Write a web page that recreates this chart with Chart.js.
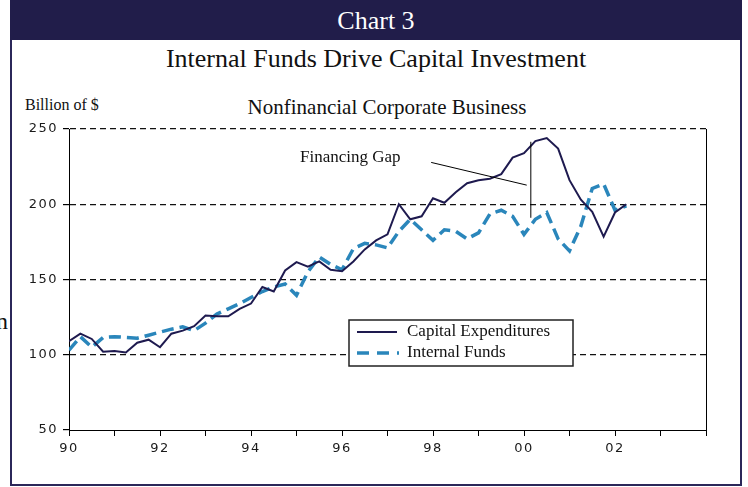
<!DOCTYPE html>
<html>
<head>
<meta charset="UTF-8">
<title>Chart 3</title>
<script src="https://cdn.jsdelivr.net/npm/chart.js@4.4.0/dist/chart.umd.min.js"></script>
<style>
*{margin:0;padding:0;}
body{width:748px;height:487px;position:relative;background:#fff;overflow:hidden;font-family:"Liberation Serif","Times New Roman",serif;color:#111;}
#frame{position:absolute;left:10px;top:0;width:728px;height:482px;border:2px solid #2b2759;}
#bar{position:absolute;left:10px;top:0;width:732px;height:40px;background:#211d4a;color:#fff;text-align:center;font-size:26px;line-height:42px;}
#title{position:absolute;left:0;width:752px;top:44px;text-align:center;font-size:26px;}
#sub{position:absolute;left:0;width:774px;top:95px;text-align:center;font-size:21px;}
#unit{position:absolute;left:25px;top:96px;font-size:16px;}
#gap{position:absolute;left:300px;top:147px;font-size:17px;}
#stray{position:absolute;left:-4px;top:308px;font-size:24px;}
#c{position:absolute;left:0;top:0;}
</style>
</head>
<body>
<div id="frame"></div>
<div id="bar">Chart 3</div>
<div id="title">Internal Funds Drive Capital Investment</div>
<div id="unit">Billion of $</div>
<div id="sub">Nonfinancial Corporate Business</div>
<div id="stray">n</div>
<canvas id="c" width="748" height="487"></canvas>
<div id="gap">Financing Gap</div>
<script>
// quarterly data, 1990Q1 .. 2002Q2, billion of $
var startYear=1990;
var capex=[109,114,110.5,102, 102.5,101.5,108,110, 105,114,116,119, 126,125.5,125.5,130.5,
	134,145,142,156, 161.5,158.5,162,156.5, 155.5,162,170,176, 180,200,190,192,
	204,201,208,214, 216,217,220,231, 234,242,244,237, 216,203,195,178.5, 194.5,200];
var internalFunds=[103,112,105,111.5, 112,111.5,111,113, 115,117,118.5,116, 121,127,130.5,134,
	138,142,145,147, 139.5,155,165,160, 156.5,170.5,174,173, 171,182,190,183,
	176,183,182,177, 181,193.5,196,192, 180,190,194.5,177, 169,185.5,210.5,213.5, 196,199];
var yTicks=[50,100,150,200,250];
var xMin=1990, xMax=2004;

// "Financing Gap" pointer lines (year, value)
var gapPointer=[[1997.96,227.8],[2000.06,212.7]];
var gapBar=[[2000.15,241.5],[2000.15,191]];

function toPoints(arr){
	return arr.map(function(v,i){return {x:startYear+i/4,y:v};});
}

var navy="#1e1a4f", blue="#2a86bb";

var extras={
	id:"extras",
	beforeDraw:function(chart){
		chart.ctx.letterSpacing="1.5px";
	},
	afterDatasetsDraw:function(chart){
		var ctx=chart.ctx, a=chart.chartArea, xs=chart.scales.x, ys=chart.scales.y;
		ctx.save();
		ctx.letterSpacing="0px";
		ctx.strokeStyle="#000";
		ctx.lineWidth=1;
		ctx.beginPath();
		ctx.moveTo(Math.round(a.right)+0.5,a.top);
		ctx.lineTo(Math.round(a.right)+0.5,a.bottom);
		ctx.stroke();

		ctx.beginPath();
		ctx.moveTo(xs.getPixelForValue(gapPointer[0][0]),ys.getPixelForValue(gapPointer[0][1]));
		ctx.lineTo(xs.getPixelForValue(gapPointer[1][0]),ys.getPixelForValue(gapPointer[1][1]));
		ctx.moveTo(xs.getPixelForValue(gapBar[0][0]),ys.getPixelForValue(gapBar[0][1]));
		ctx.lineTo(xs.getPixelForValue(gapBar[1][0]),ys.getPixelForValue(gapBar[1][1]));
		ctx.stroke();

		// legend box
		var lx=a.left+280, ly=a.top+191, lw=224, lh=46;
		ctx.fillStyle="#fff";
		ctx.fillRect(lx,ly,lw,lh);
		ctx.strokeStyle="#222";
		ctx.lineWidth=1.5;
		ctx.strokeRect(lx,ly,lw,lh);
		ctx.lineWidth=2;
		ctx.strokeStyle=navy;
		ctx.beginPath();ctx.moveTo(lx+8,ly+12);ctx.lineTo(lx+48,ly+12);ctx.stroke();
		ctx.lineWidth=3.5;
		ctx.strokeStyle=blue;
		ctx.setLineDash([12,8]);
		ctx.beginPath();ctx.moveTo(lx+8,ly+33);ctx.lineTo(lx+50,ly+33);ctx.stroke();
		ctx.setLineDash([]);
		ctx.fillStyle="#111";
		ctx.font="17px 'Liberation Serif', serif";
		ctx.textBaseline="middle";
		ctx.fillText("Capital Expenditures",lx+58,ly+12);
		ctx.fillText("Internal Funds",lx+58,ly+33);
		ctx.restore();
	}
};

new Chart(document.getElementById("c"),{
	type:"line",
	data:{
		datasets:[
			{label:"Capital Expenditures",data:toPoints(capex),borderColor:navy,borderWidth:2,pointRadius:0,tension:0},
			{label:"Internal Funds",data:toPoints(internalFunds),borderColor:blue,borderWidth:3.5,borderDash:[12,6],pointRadius:0,tension:0}
		]
	},
	options:{
		responsive:false,
		animation:false,
		layout:{padding:{top:129,right:42,left:0,bottom:0}},
		plugins:{legend:{display:false},tooltip:{enabled:false}},
		scales:{
			x:{
				type:"linear",min:xMin,max:xMax,
				afterFit:function(s){s.height=57;},
				ticks:{stepSize:1,autoSkip:false,maxRotation:0,padding:5,color:"#1a1a1a",
					font:{family:"DejaVu Sans",size:13},
					callback:function(v){
						if(v%2!==0||v>=2004)return "";
						return String(v).slice(2);
					}},
				grid:{drawOnChartArea:false,drawTicks:true,tickLength:6,tickColor:"#000",tickWidth:1},
				border:{display:true,color:"#000",width:1}
			},
			y:{
				min:50,max:250,
				afterFit:function(s){s.width=69;},
				afterBuildTicks:function(s){s.ticks=yTicks.map(function(v){return {value:v};});},
				ticks:{padding:5,color:"#1a1a1a",font:{family:"DejaVu Sans",size:13}},
				grid:{
					color:function(c){return c.tick&&c.tick.value===50?"rgba(0,0,0,0)":"#111";},
					tickBorderDash:[],tickColor:"#000",tickLength:6,lineWidth:1.2
				},
				border:{display:true,color:"#000",width:1,dash:[6,4]}
			}
		}
	},
	plugins:[extras]
});
</script>
</body>
</html>
